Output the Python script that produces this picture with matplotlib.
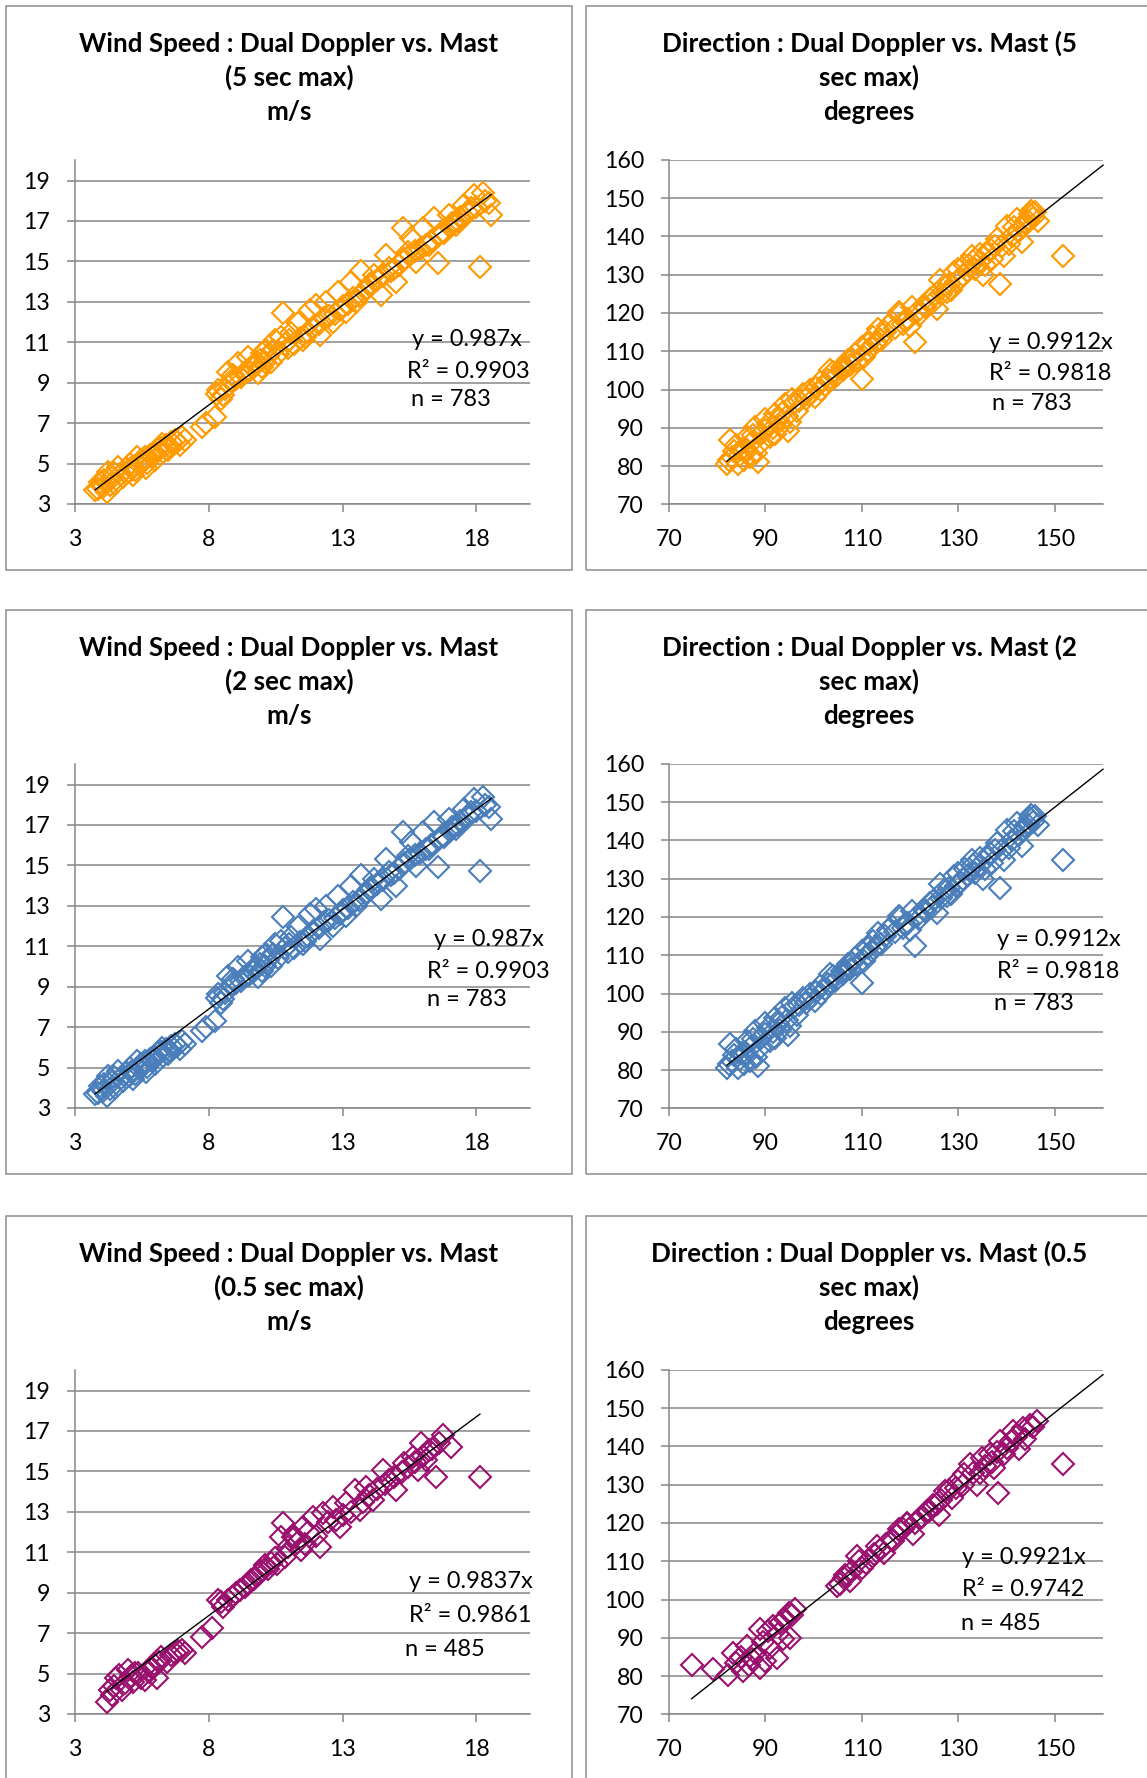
import matplotlib
matplotlib.use("Agg")
import matplotlib.pyplot as plt
from matplotlib.patches import Rectangle

W, H = 1147, 1778
DPI = 100
plt.rcParams['font.family'] = ['Lato', 'DejaVu Sans']

# ---------------- data ----------------
# wind speed, 5 s / 2 s max (mast on x, dual doppler on y)
ws_mast = [3.75, 3.93, 4.05, 4.18, 4.24, 4.40, 4.50, 4.60, 4.80, 5.00, 5.10, 5.18, 5.30,
           5.42, 5.55, 5.60, 5.67, 5.80, 5.98, 6.00, 6.17, 6.30, 6.40, 6.48, 6.60, 6.73,
           6.92, 7.10, 7.73, 7.91, 8.22, 8.35, 8.45, 8.53, 8.72, 8.85, 9.00, 9.10, 9.22,
           9.47, 9.50, 9.65, 9.84, 9.97, 10.00, 10.15, 10.20, 10.34, 10.46, 10.60, 10.71,
           10.77, 10.96, 11.08, 11.20, 11.33, 11.50, 11.58, 11.77, 11.89, 12.02, 12.14,
           12.30, 12.39, 12.64, 12.82, 12.90, 13.13, 13.20, 13.32, 13.51, 13.69, 13.80,
           14.00, 14.19, 14.30, 14.44, 14.63, 14.75, 14.90, 15.00, 15.25, 15.30, 15.44,
           15.56, 15.75, 15.90, 16.00, 16.24, 16.30, 16.43, 16.55, 16.74, 16.80, 16.99,
           17.10, 17.24, 17.40, 17.55, 17.80, 17.92, 18.00, 18.13, 18.23, 18.48, 18.55,
           3.85, 4.10, 4.30, 4.45, 4.70, 4.90, 5.05, 5.25, 5.45, 5.70, 5.90, 6.10, 6.25,
           6.55, 6.80, 7.00, 8.30, 8.60, 8.90, 9.30, 9.70, 9.90, 10.10, 10.40, 10.85,
           11.00, 11.40, 11.70, 12.10, 12.50, 12.70, 13.00, 13.40, 13.60, 13.90, 14.10,
           14.50, 14.80, 15.10, 15.50, 15.70, 16.10, 16.60, 17.00, 17.30, 17.70, 18.30]
ws_dd = [3.69, 4.10, 3.85, 3.60, 4.60, 4.30, 4.00, 4.85, 4.35, 4.60, 4.80, 4.43, 5.34,
         4.93, 5.10, 5.30, 4.76, 5.42, 5.18, 5.50, 5.84, 5.59, 5.90, 5.67, 6.08, 6.17,
         5.92, 6.17, 6.82, 6.99, 7.32, 8.64, 8.20, 8.39, 9.54, 9.13, 9.20, 9.96, 9.30,
         10.29, 9.60, 9.71, 9.46, 10.45, 9.80, 10.62, 10.30, 10.04, 11.11, 10.40, 11.28,
         12.43, 10.70, 11.44, 10.90, 11.93, 11.10, 11.28, 12.60, 11.77, 12.85, 11.36,
         12.20, 13.01, 12.02, 13.50, 12.60, 12.52, 12.90, 14.00, 13.01, 14.50, 13.50,
         13.84, 14.33, 14.10, 13.34, 15.32, 14.66, 14.60, 14.00, 16.64, 15.10, 15.48,
         16.14, 14.99, 15.60, 16.64, 15.81, 16.00, 17.13, 14.91, 16.47, 16.40, 17.30,
         16.90, 16.80, 17.20, 17.79, 17.63, 18.29, 17.70, 14.74, 18.37, 17.87, 17.30,
         3.75, 4.20, 3.95, 4.55, 4.50, 4.75, 5.00, 4.70, 5.20, 5.05, 5.35, 5.70, 5.95,
         5.80, 6.05, 6.30, 8.45, 8.70, 9.40, 9.50, 9.90, 10.10, 10.00, 10.60, 10.90,
         11.10, 11.20, 11.50, 11.90, 12.30, 12.40, 12.80, 13.20, 13.30, 13.70, 13.90,
         14.30, 14.50, 14.80, 15.30, 15.50, 15.80, 16.30, 16.70, 17.00, 17.40, 18.00]

# direction, 5 s / 2 s max
dir_mast = [81.96, 82.65, 83.0, 83.5, 84.38, 85.07, 85.5, 86.11, 86.8, 87.0, 87.84, 88.53,
            88.88, 89.91, 90.0, 90.95, 91.99, 92.5, 93.03, 94.06, 94.75, 95.45, 96.0, 96.48,
            97.87, 98.5, 99.25, 100.29, 101.32, 102.36, 103.4, 104.44, 105.82, 106.5,
            107.2, 108.59, 109.97, 109.97, 110.5, 111.35, 112.39, 113.43, 114.81, 115.5,
            116.19, 117.6, 117.92, 118.96, 119.5, 120.0, 120.34, 121.0, 121.4, 122.8,
            123.0, 124.1, 125.5, 126.2, 126.5, 127.6, 128.0, 129.0, 130.4, 131.4, 132.8,
            133.5, 134.2, 135.2, 136.6, 137.0, 138.0, 138.7, 139.4, 140.1, 140.5, 141.1,
            142.1, 142.5, 143.2, 143.9, 144.9, 145.5, 146.0, 146.6, 151.8,
            82.5, 83.8, 84.8, 86.0, 87.5, 88.0, 89.0, 90.5, 91.5, 92.0, 93.5, 94.5, 95.0,
            97.0, 99.0, 100.5, 101.5, 103.0, 104.0, 105.0, 106.0, 107.5, 108.0, 109.0,
            111.0, 112.0, 113.0, 114.0, 116.8, 118.5, 121.8, 124.5, 125.0, 127.0, 128.5,
            129.5, 130.0, 131.0, 132.0, 133.0, 134.5, 135.5, 136.0, 137.5, 139.0, 141.5,
            143.5, 144.5, 145.0]
dir_dd = [80.6, 86.7, 82.4, 84.0, 80.6, 84.5, 81.5, 87.6, 82.4, 86.0, 90.2, 81.1,
          85.8, 92.4, 89.5, 87.6, 93.7, 92.0, 90.6, 96.3, 89.3, 97.6, 96.5, 94.5,
          98.9, 97.5, 99.8, 98.0, 101.9, 101.1, 105.0, 103.2, 105.8, 106.0,
          107.6, 109.3, 102.8, 111.1, 108.5, 112.0, 113.7, 115.9, 115.0, 116.5,
          117.6, 120.2, 119.8, 118.1, 118.5, 116.7, 121.6, 112.4, 120.2, 122.0,
          121.5, 123.7, 121.1, 128.5, 125.0, 125.4, 127.5, 130.6, 128.9, 132.4, 135.0,
          131.5, 133.3, 129.8, 136.7, 134.0, 139.4, 127.6, 135.0, 142.8, 138.0, 140.2,
          144.6, 141.5, 138.5, 143.7, 145.9, 144.8, 146.3, 144.1, 135.0,
          81.5, 85.5, 82.8, 84.5, 88.0, 83.5, 88.5, 91.0, 90.0, 88.5, 94.0, 93.0, 91.5,
          97.0, 98.5, 100.5, 100.0, 102.5, 104.5, 104.0, 105.0, 106.5, 108.0, 107.5,
          110.0, 111.0, 112.5, 113.0, 116.0, 117.0, 119.5, 122.5, 124.5, 127.0, 126.0,
          128.0, 131.5, 130.0, 131.0, 133.5, 135.5, 132.5, 135.5, 137.5, 137.5, 142.5,
          142.5, 144.0, 146.5]

# wind speed, 0.5 s max
ws05_mast = [4.18, 4.30, 4.37, 4.55, 4.74, 4.99, 5.10, 5.18, 5.36, 5.61, 5.86, 6.05, 6.23,
             6.42, 6.73, 6.98, 7.10, 7.73, 8.10, 8.35, 8.53, 8.85, 9.16, 9.34, 9.59, 9.84,
             10.09, 10.34, 10.46, 10.71, 10.77, 10.96, 11.14, 11.21, 11.46, 11.52, 11.71,
             11.89, 12.14, 12.26, 12.64, 12.89, 13.13, 13.45, 13.63, 13.88, 14.13, 14.50,
             14.75, 15.00, 15.31, 15.62, 15.81, 15.93, 16.12, 16.24, 16.49, 16.74, 17.05,
             18.13,
             4.45, 4.65, 4.85, 5.25, 5.45, 5.75, 5.95, 6.15, 6.60, 6.85, 8.45, 8.70, 9.00,
             9.45, 9.70, 9.95, 10.20, 10.55, 10.85, 11.30, 11.60, 12.00, 12.45, 12.75,
             13.00, 13.30, 13.75, 14.00, 14.30, 14.60, 14.90, 15.20, 15.45, 15.70, 16.00,
             16.35, 16.60]
ws05_dd = [3.61, 4.20, 3.94, 4.76, 4.18, 5.17, 4.90, 4.60, 5.01, 4.68, 5.26, 4.76, 5.83,
           5.58, 6.00, 6.16, 6.00, 6.82, 7.23, 8.63, 8.30, 8.80, 9.13, 9.30, 9.62, 9.87,
           10.37, 10.45, 10.70, 11.77, 12.43, 11.27, 11.77, 11.77, 11.11, 12.27, 12.01,
           12.76, 11.28, 12.93, 13.26, 12.27, 13.42, 14.08, 13.09, 14.24, 13.59, 15.07,
           14.57, 14.08, 15.40, 15.73, 15.07, 16.39, 15.56, 16.06, 14.74, 16.80, 16.22,
           14.71,
           4.40, 4.95, 4.55, 5.05, 4.80, 5.10, 5.45, 5.55, 5.90, 6.10, 8.55, 8.65, 9.00,
           9.45, 9.70, 10.05, 10.15, 10.40, 10.75, 11.45, 11.40, 11.80, 12.50, 12.60,
           12.85, 13.00, 13.50, 13.85, 14.15, 14.40, 14.70, 14.95, 15.20, 15.45, 15.75,
           16.10, 16.40]

# direction, 0.5 s max
dir05_mast = [74.7, 79.2, 82.3, 83.3, 85.4, 86.1, 87.2, 88.9, 88.9, 90.6, 90.9, 92.3, 93.0,
              93.7, 94.8, 95.1, 96.1, 104.8, 106.2, 107.5, 108.9, 110.0, 111.7, 113.1,
              114.5, 116.2, 116.5, 117.6, 117.9, 119.3, 119.3, 120.7, 122.1, 123.5, 124.8,
              125.9, 127.3, 128.6, 130.0, 131.1, 132.5, 133.8, 134.9, 136.6, 137.3, 138.3,
              138.7, 140.1, 141.4, 142.5, 143.5, 144.9, 146.3, 151.8,
              83.8, 85.0, 86.5, 87.8, 89.5, 90.0, 91.5, 92.5, 94.0, 95.5, 105.5, 106.5,
              108.0, 109.5, 110.8, 112.5, 113.8, 115.0, 118.5, 121.0, 122.5, 124.0, 125.5,
              126.5, 128.0, 129.5, 131.0, 133.0, 134.5, 135.5, 137.0, 138.0, 139.5, 141.0,
              142.0, 143.8, 145.5]
dir05_dd = [82.8, 81.8, 80.4, 86.1, 81.3, 87.8, 84.4, 92.2, 82.2, 91.8, 87.4, 84.8, 93.9,
            89.6, 96.5, 90.0, 97.4, 103.5, 105.7, 104.8, 111.3, 108.3, 110.5, 113.9,
            112.2, 115.7, 115.3, 118.3, 117.9, 120.0, 119.6, 117.0, 121.3, 123.1, 124.8,
            122.2, 128.3, 126.6, 130.9, 132.7, 135.3, 130.0, 137.0, 137.9, 134.4, 127.9,
            141.4, 139.6, 144.0, 139.2, 144.8, 145.7, 146.6, 135.3,
            83.5, 85.0, 83.0, 86.0, 89.0, 84.0, 93.0, 91.0, 95.0, 96.0, 104.0, 106.5,
            107.5, 110.0, 109.5, 112.0, 113.0, 114.5, 118.5, 120.0, 121.5, 123.0, 125.0,
            126.0, 128.5, 129.0, 130.0, 133.0, 133.0, 135.0, 136.0, 138.5, 138.0, 141.5,
            142.5, 142.0, 145.0]

ws_title = "Wind Speed : Dual Doppler vs. Mast"
dir_title = "Direction : Dual Doppler vs. Mast"

ORANGE = '#FF9A00'
BLUE = '#4A7EBB'
PURPLE = '#9A106E'
GRID = '#868686'

fig = plt.figure(figsize=(W / DPI, H / DPI), dpi=DPI)


def fx(px):
    return px / W


def fy(py):
    return 1 - py / H


def panel(ox, oy, kind, xs, ys, color, slope, r2, n, title, tpos):
    # chart frame
    fig.patches.append(Rectangle((fx(ox), fy(oy + 564)), 566 / W, 564 / H,
                                 transform=fig.transFigure, fill=False,
                                 edgecolor='#8C8C8C', lw=1.1, zorder=0))
    for i, line in enumerate(title):
        fig.text(fx(ox + 283), fy(oy + 46 + 34 * i), line, ha='center',
                 va='baseline', fontsize=18.7, fontweight='bold', color='black')

    if kind == 'ws':
        l, r, t, b = ox + 69, ox + 524, oy + 154.3, oy + 498
    else:
        l, r, t, b = ox + 83, ox + 517, oy + 153.8, oy + 498.4
    ax = fig.add_axes([fx(l), fy(b), (r - l) / W, (b - t) / H])
    ax.set_facecolor('none')

    if kind == 'ws':
        ax.set_xlim(3, 20)
        ax.set_ylim(3, 20)
        ax.set_xticks([3, 8, 13, 18])
        ax.set_yticks(list(range(3, 20, 2)))
        x0, x1 = min(xs), max(xs)
    else:
        ax.set_xlim(70, 160)
        ax.set_ylim(70, 160)
        ax.set_xticks(list(range(70, 151, 20)))
        ax.set_yticks(list(range(70, 161, 10)))
        x0, x1 = min(xs), 160

    ax.yaxis.grid(True, color=GRID, lw=1.1, zorder=0)
    ax.set_axisbelow(True)
    for s in ('top', 'right'):
        ax.spines[s].set_visible(False)
    for s in ('left', 'bottom'):
        ax.spines[s].set_color(GRID)
        ax.spines[s].set_linewidth(1.1)
    ax.tick_params(direction='out', length=6, width=1.1, color=GRID,
                   labelsize=16.7, labelcolor='black')
    ax.tick_params(axis='y', pad=12)
    ax.tick_params(axis='x', pad=12)

    ax.plot(xs, ys, linestyle='none', marker='D', ms=11.5, mfc='none',
            mec=color, mew=1.5, zorder=3, clip_on=False)
    ax.plot([x0, x1], [slope * x0, slope * x1], color='black', lw=1.0,
            zorder=4, clip_on=False)

    lines = [f"y = {slope}x", f"R\u00b2 = {r2}", f"n = {n}"]
    for (dx, dy), txt in zip(tpos, lines):
        fig.text(fx(ox + dx), fy(oy + dy + 8.5), txt, ha='left', va='baseline',
                 fontsize=17, color='black')
    return ax


rows = [6, 610, 1216]
cols = [6, 586]

panel(cols[0], rows[0], 'ws', ws_mast, ws_dd, ORANGE, 0.987, 0.9903, 783,
      [ws_title, "(5 sec max)", "m/s"], [(406, 331), (401, 363), (405, 391)])
panel(cols[1], rows[0], 'dir', dir_mast, dir_dd, ORANGE, 0.9912, 0.9818, 783,
      [dir_title + " (5", "sec max)", "degrees"], [(403, 334), (403, 366), (406, 395)])
panel(cols[0], rows[1], 'ws', ws_mast, ws_dd, BLUE, 0.987, 0.9903, 783,
      [ws_title, "(2 sec max)", "m/s"], [(428, 327), (421, 359), (421, 387)])
panel(cols[1], rows[1], 'dir', dir_mast, dir_dd, BLUE, 0.9912, 0.9818, 783,
      [dir_title + " (2", "sec max)", "degrees"], [(411, 327), (411, 359), (408, 392)])
panel(cols[0], rows[2], 'ws', ws05_mast, ws05_dd, PURPLE, 0.9837, 0.9861, 485,
      [ws_title, "(0.5 sec max)", "m/s"], [(403, 364), (403, 397), (399, 431)])
panel(cols[1], rows[2], 'dir', dir05_mast, dir05_dd, PURPLE, 0.9921, 0.9742, 485,
      [dir_title + " (0.5", "sec max)", "degrees"], [(376, 339), (376, 372), (375, 405)])

fig.savefig("out.png", dpi=DPI, facecolor='white')
